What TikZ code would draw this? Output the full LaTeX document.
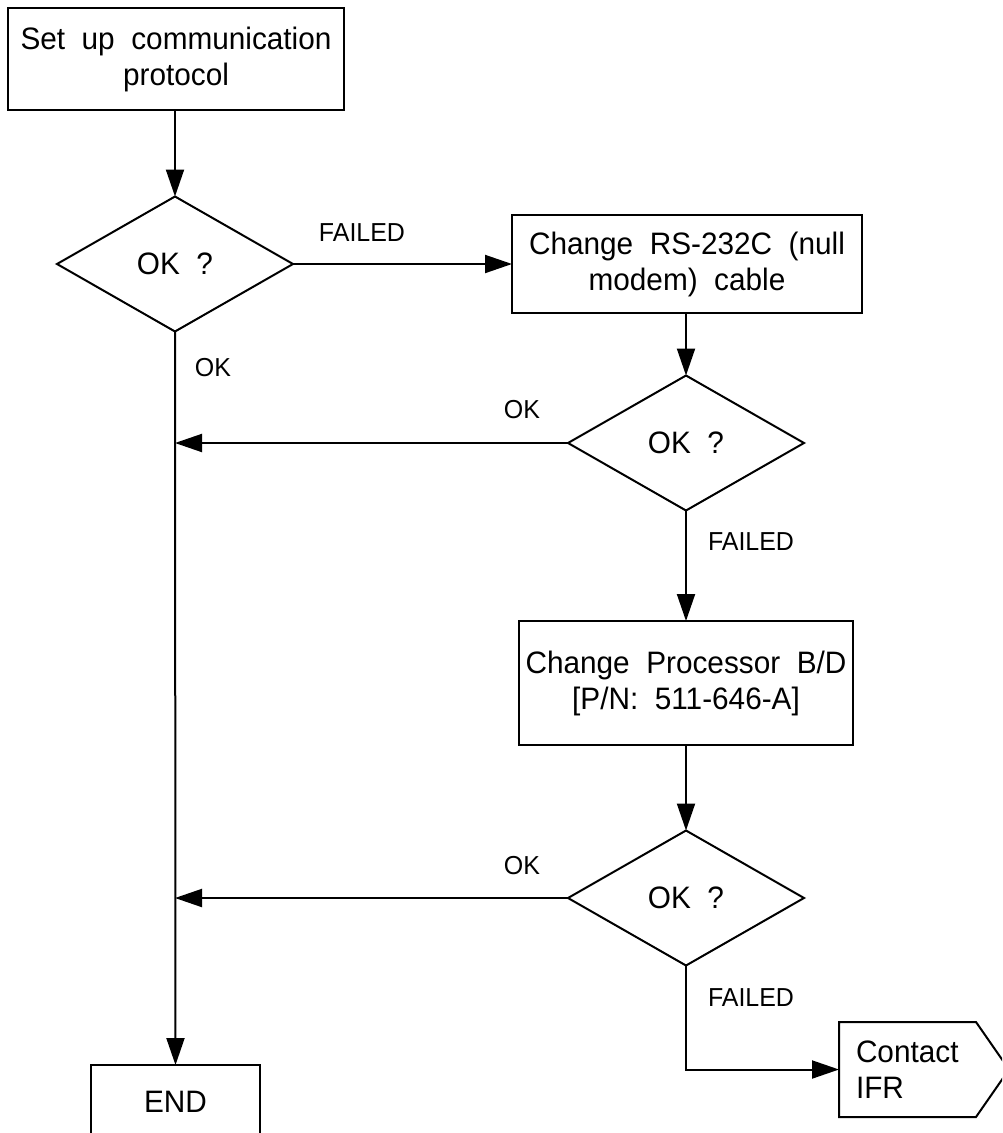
\documentclass[tikz,border=0pt]{standalone}
\usepackage{fontspec}
\setmainfont{Liberation Sans}[FakeStretch=0.96,WordSpace=2.0]
\usetikzlibrary{arrows.meta,shapes.geometric}
\begin{document}
\begin{tikzpicture}[x=1pt,y=-1pt,
  line width=2pt,
  every node/.style={inner sep=0pt,outer sep=0pt},
  mainfont/.style={font=\fontsize{31}{36}\selectfont},
  box/.style={draw,align=center,mainfont},
  dia/.style={draw,diamond,minimum width=236pt,minimum height=135pt,mainfont},
  lbl/.style={font=\fontsize{26}{30}\selectfont},
  arr/.style={-{Triangle[length=27pt,width=18pt]}}]
\useasboundingbox (0,0) rectangle (1002,1133);
\clip (0,0) rectangle (1002,1133);
\node[box,minimum width=336pt,minimum height=102pt] (setup) at (176,59) {Set up communication\\protocol};
\node[dia] (d1) at (175,264) {OK ?};
\node[box,minimum width=350pt,minimum height=98pt] (rs) at (687,264) {Change RS-232C (null\\modem) cable};
\node[dia] (d2) at (686,443) {OK ?};
\node[box,minimum width=334pt,minimum height=124pt] (proc) at (686,683) {Change Processor B/D\\{}[P/N: 511-646-A]};
\node[dia] (d3) at (686,898) {OK ?};
\node[box,minimum width=169pt,minimum height=74pt] (end) at (175.5,1102) {END};
\node[minimum width=137pt,minimum height=95pt] (ifr) at (907.5,1069.5) {};
\draw (ifr.north west) -- (ifr.north east) -- ([xshift=33pt]ifr.east) -- (ifr.south east) -- (ifr.south west) -- cycle;
\node[mainfont,align=left,anchor=west] (ifrtxt) at (856,1069.5) {Contact\\IFR};
\node[lbl] (lf1) at (362,233) {FAILED};
\node[lbl] (lo1) at (213,368) {OK};
\node[lbl] (lo2) at (522,410) {OK};
\node[lbl] (lf2) at (751,542) {FAILED};
\node[lbl] (lo3) at (522,866) {OK};
\node[lbl] (lf3) at (751,998) {FAILED};
\draw[arr] (setup.south -| d1.north) -- (d1.north);
\draw[arr] (d1.east) -- (rs.west);
\draw[arr] (rs.south -| d2.north) -- (d2.north);
\draw[arr] (d2.west) -- (d1.south |- d2.west);
\draw[arr] (d2.south) -- (proc.north -| d2.south);
\draw[arr] (proc.south -| d3.north) -- (d3.north);
\draw[arr] (d3.west) -- (d1.south |- d3.west);
\draw[arr] (d1.south) -- (end.north);
\draw[arr] (d3.south) |- (ifr.west);
\end{tikzpicture}
\end{document}
